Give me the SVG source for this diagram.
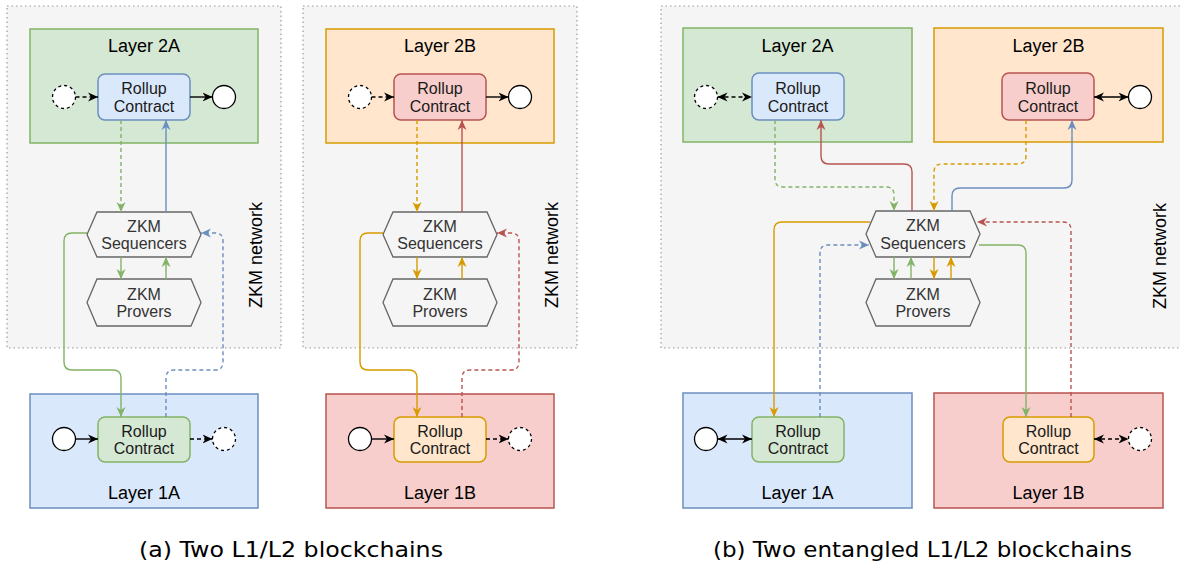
<svg xmlns="http://www.w3.org/2000/svg" width="1180" height="569" viewBox="0 0 1180 569">
<style>
text{font-family:"Liberation Sans",Arial,sans-serif;fill:#000;text-anchor:middle}
.t{font-size:18px}
.s{font-size:16px;fill:#1a1a1a}
.p{font-size:16px;fill:#333}
.cap{font-family:"DejaVu Sans",sans-serif;font-size:22px}
.net{fill:#f5f5f5;stroke:#999;stroke-width:1.2;stroke-dasharray:1.5 3}
.hex{fill:#f5f5f5;stroke:#666;stroke-width:1.3}
.g{fill:#d5e8d4;stroke:#82b366;stroke-width:1.5}
.b{fill:#dae8fc;stroke:#6c8ebf;stroke-width:1.5}
.o{fill:#ffe6cc;stroke:#d79b00;stroke-width:1.5}
.r{fill:#f8cecc;stroke:#b85450;stroke-width:1.5}
.c{fill:#fff;stroke:#000;stroke-width:1.3}
.cd{fill:#fff;stroke:#000;stroke-width:1.3;stroke-dasharray:3 3}
.l{fill:none;stroke-width:1.4}
.d{stroke-dasharray:4 3}
.kG{stroke:#82b366}.kB{stroke:#6c8ebf}.kR{stroke:#b85450}.kO{stroke:#d79b00}.kK{stroke:#000}
</style>
<defs>
<marker id="aK" viewBox="0 0 10 10" refX="10" refY="5" markerWidth="10" markerHeight="10" markerUnits="userSpaceOnUse" orient="auto-start-reverse"><path d="M0,0.5 L10,5 L0,9.5 L3,5 Z" fill="#000"/></marker>
<marker id="aG" viewBox="0 0 10 10" refX="10" refY="5" markerWidth="10" markerHeight="10" markerUnits="userSpaceOnUse" orient="auto-start-reverse"><path d="M0,0.5 L10,5 L0,9.5 L3,5 Z" fill="#82b366"/></marker>
<marker id="aB" viewBox="0 0 10 10" refX="10" refY="5" markerWidth="10" markerHeight="10" markerUnits="userSpaceOnUse" orient="auto-start-reverse"><path d="M0,0.5 L10,5 L0,9.5 L3,5 Z" fill="#6c8ebf"/></marker>
<marker id="aR" viewBox="0 0 10 10" refX="10" refY="5" markerWidth="10" markerHeight="10" markerUnits="userSpaceOnUse" orient="auto-start-reverse"><path d="M0,0.5 L10,5 L0,9.5 L3,5 Z" fill="#b85450"/></marker>
<marker id="aO" viewBox="0 0 10 10" refX="10" refY="5" markerWidth="10" markerHeight="10" markerUnits="userSpaceOnUse" orient="auto-start-reverse"><path d="M0,0.5 L10,5 L0,9.5 L3,5 Z" fill="#d79b00"/></marker>
</defs>

<!-- ===== (a) left ===== -->
<g id="netA"><rect class="net" x="7" y="6" width="274" height="342"/><text class="t" transform="translate(261.5,255) rotate(-90)">ZKM network</text></g>
<g id="L2A_a"><rect class="g" x="30" y="29" width="228" height="114"/><text class="t" x="144" y="52">Layer 2A</text></g>
<g id="RC2A_a"><rect class="b" x="98" y="74" width="92" height="46" rx="7"/><text class="s" x="144" y="94">Rollup</text><text class="s" x="144" y="112">Contract</text></g>
<g id="c2A_a_in"><circle class="cd" cx="64" cy="97" r="11.5"/></g>
<g id="c2A_a_out"><circle class="c" cx="224" cy="97" r="11.5"/></g>
<g id="SEQ_a"><polygon class="hex" points="87,234.5 97,212 191,212 201,234.5 191,257 97,257"/><text class="p" x="144" y="231.5">ZKM</text><text class="p" x="144" y="249">Sequencers</text></g>
<g id="PRV_a"><polygon class="hex" points="87,302.5 97,279 191,279 201,302.5 191,326 97,326"/><text class="p" x="144" y="300">ZKM</text><text class="p" x="144" y="317">Provers</text></g>
<g id="L1A_a"><rect class="b" x="30" y="394" width="228" height="114"/><text class="t" x="144" y="499">Layer 1A</text></g>
<g id="RC1A_a"><rect class="g" x="98" y="417" width="92" height="45" rx="7"/><text class="s" x="144" y="436.5">Rollup</text><text class="s" x="144" y="454">Contract</text></g>
<g id="c1A_a_in"><circle class="c" cx="64" cy="439" r="11.5"/></g>
<g id="c1A_a_out"><circle class="cd" cx="224" cy="439" r="11.5"/></g>

<!-- ===== (a) middle ===== -->
<g id="netB"><rect class="net" x="303" y="6" width="274" height="342"/><text class="t" transform="translate(557.5,255) rotate(-90)">ZKM network</text></g>
<g id="L2B_a"><rect class="o" x="326" y="29" width="228" height="114"/><text class="t" x="440" y="52">Layer 2B</text></g>
<g id="RC2B_a"><rect class="r" x="394" y="74" width="92" height="46" rx="7"/><text class="s" x="440" y="94">Rollup</text><text class="s" x="440" y="112">Contract</text></g>
<g id="c2B_a_in"><circle class="cd" cx="360" cy="97" r="11.5"/></g>
<g id="c2B_a_out"><circle class="c" cx="520" cy="97" r="11.5"/></g>
<g id="SEQ_b"><polygon class="hex" points="383,234.5 393,212 487,212 497,234.5 487,257 393,257"/><text class="p" x="440" y="231.5">ZKM</text><text class="p" x="440" y="249">Sequencers</text></g>
<g id="PRV_b"><polygon class="hex" points="383,302.5 393,279 487,279 497,302.5 487,326 393,326"/><text class="p" x="440" y="300">ZKM</text><text class="p" x="440" y="317">Provers</text></g>
<g id="L1B_a"><rect class="r" x="326" y="394" width="228" height="114"/><text class="t" x="440" y="499">Layer 1B</text></g>
<g id="RC1B_a"><rect class="o" x="394" y="417" width="92" height="45" rx="7"/><text class="s" x="440" y="436.5">Rollup</text><text class="s" x="440" y="454">Contract</text></g>
<g id="c1B_a_in"><circle class="c" cx="360" cy="439" r="11.5"/></g>
<g id="c1B_a_out"><circle class="cd" cx="520" cy="439" r="11.5"/></g>

<!-- ===== (b) right ===== -->
<g id="netC"><rect class="net" x="661" y="6" width="522" height="342"/><text class="t" transform="translate(1166,256) rotate(-90)">ZKM network</text></g>
<g id="L2A_b"><rect class="g" x="683" y="28" width="229" height="114"/><text class="t" x="797.5" y="51.5">Layer 2A</text></g>
<g id="RC2A_b"><rect class="b" x="752" y="73" width="92" height="47" rx="7"/><text class="s" x="798" y="93.5">Rollup</text><text class="s" x="798" y="111.5">Contract</text></g>
<g id="c2A_b"><circle class="cd" cx="706" cy="97" r="11.5"/></g>
<g id="L2B_b"><rect class="o" x="934" y="28" width="229" height="114"/><text class="t" x="1048.5" y="51.5">Layer 2B</text></g>
<g id="RC2B_b"><rect class="r" x="1002" y="73" width="92" height="47" rx="7"/><text class="s" x="1048" y="93.5">Rollup</text><text class="s" x="1048" y="111.5">Contract</text></g>
<g id="c2B_b"><circle class="c" cx="1140" cy="97" r="11.5"/></g>
<g id="SEQ_c"><polygon class="hex" points="866,234 876,211 970,211 980,234 970,257 876,257"/><text class="p" x="923" y="231">ZKM</text><text class="p" x="923" y="249">Sequencers</text></g>
<g id="PRV_c"><polygon class="hex" points="866,302.5 876,279 970,279 980,302.5 970,326 876,326"/><text class="p" x="923" y="300">ZKM</text><text class="p" x="923" y="317">Provers</text></g>
<g id="L1A_b"><rect class="b" x="683" y="393" width="229" height="115"/><text class="t" x="797.5" y="499">Layer 1A</text></g>
<g id="RC1A_b"><rect class="g" x="752" y="417" width="92" height="45" rx="7"/><text class="s" x="798" y="436.5">Rollup</text><text class="s" x="798" y="454">Contract</text></g>
<g id="c1A_b"><circle class="c" cx="706" cy="439" r="11.5"/></g>
<g id="L1B_b"><rect class="r" x="934" y="393" width="229" height="115"/><text class="t" x="1048.5" y="499">Layer 1B</text></g>
<g id="RC1B_b"><rect class="o" x="1003" y="417" width="91" height="45" rx="7"/><text class="s" x="1048.5" y="436.5">Rollup</text><text class="s" x="1048.5" y="454">Contract</text></g>
<g id="c1B_b"><circle class="cd" cx="1140" cy="439" r="11.5"/></g>

<!-- ===== connectors ===== -->
<g id="connectors">
<!-- (a) left -->
<path class="l kK d" d="M75.5,97 H98" marker-end="url(#aK)"/>
<path class="l kK" d="M190,97 H212.5" marker-end="url(#aK)"/>
<path class="l kK" d="M75.5,439 H98" marker-end="url(#aK)"/>
<path class="l kK d" d="M190,439 H212.5" marker-end="url(#aK)"/>
<path class="l kG d" d="M121,120 V212" marker-end="url(#aG)"/>
<path class="l kB" d="M166,212 V120" marker-end="url(#aB)"/>
<path class="l kG" d="M121,257 V279" marker-end="url(#aG)"/>
<path class="l kG" d="M166,279 V257" marker-end="url(#aG)"/>
<path class="l kG" d="M87,233 H72 Q64,233 64,241 V362 Q64,370 72,370 H113 Q121,370 121,378 V417" marker-end="url(#aG)"/>
<path class="l kB d" d="M166,417 V378 Q166,370 174,370 H215 Q223,370 223,362 V241 Q223,233 215,233 H201" marker-end="url(#aB)"/>
<!-- (a) middle -->
<path class="l kK d" d="M371.5,97 H394" marker-end="url(#aK)"/>
<path class="l kK" d="M486,97 H508.5" marker-end="url(#aK)"/>
<path class="l kK" d="M371.5,439 H394" marker-end="url(#aK)"/>
<path class="l kK d" d="M486,439 H508.5" marker-end="url(#aK)"/>
<path class="l kO d" d="M417,120 V212" marker-end="url(#aO)"/>
<path class="l kR" d="M462,212 V120" marker-end="url(#aR)"/>
<path class="l kO" d="M417,257 V279" marker-end="url(#aO)"/>
<path class="l kO" d="M462,279 V257" marker-end="url(#aO)"/>
<path class="l kO" d="M383,233 H368 Q360,233 360,241 V362 Q360,370 368,370 H409 Q417,370 417,378 V417" marker-end="url(#aO)"/>
<path class="l kR d" d="M462,417 V378 Q462,370 470,370 H511 Q519,370 519,362 V241 Q519,233 511,233 H497" marker-end="url(#aR)"/>
<!-- (b) right -->
<path class="l kK d" d="M717.5,97 H752" marker-start="url(#aK)" marker-end="url(#aK)"/>
<path class="l kK" d="M1094,97 H1128.5" marker-start="url(#aK)" marker-end="url(#aK)"/>
<path class="l kK" d="M717.5,439 H752" marker-start="url(#aK)" marker-end="url(#aK)"/>
<path class="l kK d" d="M1094,439 H1128.5" marker-start="url(#aK)" marker-end="url(#aK)"/>
<path class="l kG d" d="M775,120 V179 Q775,187 783,187 H886 Q894,187 894,195 V211" marker-end="url(#aG)"/>
<path class="l kR" d="M912,211 V172 Q912,164 904,164 H829 Q821,164 821,156 V120" marker-end="url(#aR)"/>
<path class="l kO d" d="M1026,120 V156 Q1026,164 1018,164 H942 Q934,164 934,172 V211" marker-end="url(#aO)"/>
<path class="l kB" d="M952,211 V196 Q952,188 960,188 H1064 Q1072,188 1072,180 V120" marker-end="url(#aB)"/>
<path class="l kO" d="M870,222 H782 Q774,222 774,230 V417" marker-end="url(#aO)"/>
<path class="l kB d" d="M820,417 V253 Q820,245 828,245 H869" marker-end="url(#aB)"/>
<path class="l kG" d="M979,245 H1018 Q1026,245 1026,253 V417" marker-end="url(#aG)"/>
<path class="l kR d" d="M1071,417 V230 Q1071,222 1063,222 H977" marker-end="url(#aR)"/>
<path class="l kG" d="M894,257 V279" marker-end="url(#aG)"/>
<path class="l kG" d="M911,279 V257" marker-end="url(#aG)"/>
<path class="l kO" d="M934,257 V279" marker-end="url(#aO)"/>
<path class="l kO" d="M951,279 V257" marker-end="url(#aO)"/>
</g>

<text class="cap" x="291" y="557" textLength="304" lengthAdjust="spacingAndGlyphs">(a) Two L1/L2 blockchains</text>
<text class="cap" x="922.5" y="557" textLength="419" lengthAdjust="spacingAndGlyphs">(b) Two entangled L1/L2 blockchains</text>
</svg>
